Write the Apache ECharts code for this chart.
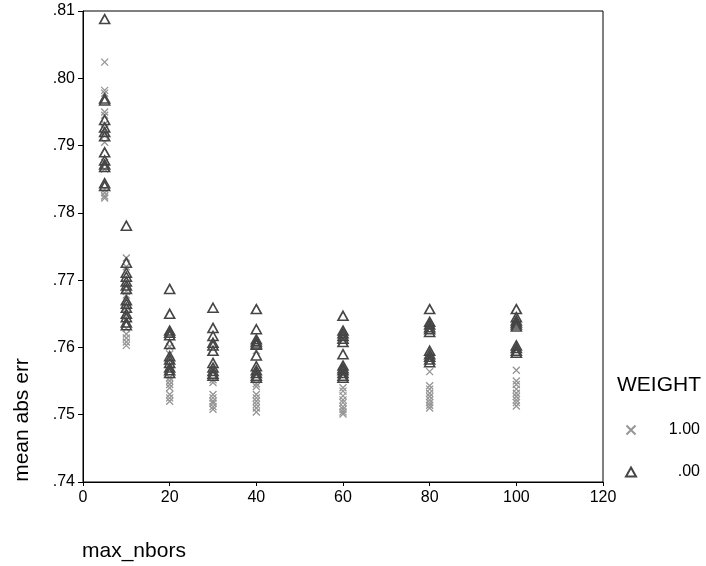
<!DOCTYPE html>
<html>
<head>
<meta charset="utf-8">
<script src="https://cdn.jsdelivr.net/npm/echarts@6/dist/echarts.min.js"></script>
<style>
html,body{margin:0;padding:0;background:#fff;}
#c{width:706px;height:566px;}
</style>
</head>
<body>
<div id="c"></div>
<script>
// max_nbors values (x categories)
const maxNbors = [5, 10, 20, 30, 40, 60, 80, 100];

// WEIGHT = 1.00 (crosses), one list per max_nbors value
const weight100 = [
  [.8024, .7982, .7978, .7950, .7945, .7932, .7925, .7915, .7905, .7875, .7865, .7835, .7830, .7825, .7822],
  [.7733, .7720, .7690, .7683, .7678, .7660, .7648, .7640, .7628, .7620, .7614, .7608, .7603],
  [.7601, .7590, .7572, .7555, .7550, .7545, .7540, .7530, .7525, .7520],
  [.7552, .7548, .7530, .7525, .7520, .7517, .7512, .7508],
  [.7595, .7546, .7542, .7530, .7525, .7520, .7515, .7510, .7504],
  [.7540, .7535, .7528, .7522, .7518, .7512, .7508, .7504, .7501],
  [.7564, .7543, .7538, .7532, .7527, .7522, .7518, .7514, .7510],
  [.7566, .7550, .7545, .7538, .7532, .7527, .7522, .7518, .7513]
];

// WEIGHT = .00 (triangles), one list per max_nbors value
const weight000 = [
  [.8088, .7970, .7967, .7938, .7927, .7920, .7914, .7890, .7878, .7872, .7868, .7844, .7840],
  [.7781, .7726, .7711, .7705, .7698, .7692, .7687, .7670, .7665, .7659, .7650, .7645, .7637, .7633],
  [.7687, .7650, .7625, .7622, .7618, .7605, .7587, .7582, .7577, .7570, .7566, .7562],
  [.7659, .7629, .7617, .7607, .7603, .7595, .7577, .7570, .7565, .7561, .7558],
  [.7657, .7627, .7612, .7609, .7606, .7604, .7588, .7572, .7566, .7562, .7558, .7555],
  [.7647, .7625, .7621, .7617, .7613, .7608, .7590, .7573, .7569, .7566, .7562, .7558, .7555],
  [.7657, .7638, .7634, .7630, .7627, .7623, .7595, .7590, .7586, .7582, .7578],
  [.7657, .7645, .7640, .7637, .7634, .7631, .7603, .7599, .7595, .7592]
];

const legendNames = ['1.00', '.00'];
const legendTitle = 'WEIGHT';
const xTitle = 'max_nbors';
const yTitle = 'mean abs err';

function toPoints(groups) {
  const pts = [];
  groups.forEach((vals, i) => vals.forEach(v => pts.push([maxNbors[i], v])));
  return pts;
}

const FONT = '"Liberation Sans", Arial, Helvetica, sans-serif';
const chart = echarts.init(document.getElementById('c'), null, {renderer: 'canvas'});

chart.setOption({
  animation: false,
  backgroundColor: '#fff',
  textStyle: {fontFamily: FONT},
  grid: {left: 83, top: 11, right: 103, bottom: 84, show: true, borderColor: '#000', borderWidth: 1, backgroundColor: 'transparent'},
  xAxis: {
    type: 'value', min: 0, max: 120, interval: 20,
    axisLine: {show: true, onZero: false, lineStyle: {color: '#000', width: 1}},
    axisTick: {show: true, length: 4, lineStyle: {color: '#000'}},
    axisLabel: {color: '#000', fontSize: 16, fontFamily: FONT, margin: 8},
    splitLine: {show: false}
  },
  yAxis: {
    type: 'value', min: 0.74, max: 0.81, interval: 0.01,
    axisLine: {show: true, onZero: false, lineStyle: {color: '#000', width: 1}},
    axisTick: {show: true, length: 5, lineStyle: {color: '#000'}},
    axisLabel: {color: '#000', fontSize: 16, fontFamily: FONT, margin: 8,
      formatter: v => v.toFixed(2).replace(/^0/, '')},
    splitLine: {show: false}
  },
  legend: {
    orient: 'vertical', left: 620, top: 417,
    itemWidth: 10, itemHeight: 9, itemGap: 26,
    data: [
      {name: legendNames[0]},
      {name: legendNames[1]}
    ],
    formatter: '{a|{name}}',
    textStyle: {color: '#000', fontSize: 16, fontFamily: FONT,
      rich: {a: {width: 59, align: 'right', fontSize: 16, fontFamily: FONT, color: '#000'}}}
  },
  graphic: [
    {type: 'text', left: 617, top: 375, style: {text: legendTitle, fontSize: 21, fontFamily: FONT, fill: '#000'}},
    {type: 'text', left: 82, top: 541, style: {text: xTitle, fontSize: 21, fontFamily: FONT, fill: '#000'}},
    {type: 'text', x: 22, y: 420, rotation: Math.PI / 2,
      style: {text: yTitle, fontSize: 21, fontFamily: FONT, fill: '#000', align: 'center', verticalAlign: 'middle'}}
  ],
  series: [
    {
      name: legendNames[0], type: 'scatter',
      symbol: 'path://M0,0L10,10M10,0L0,10', symbolSize: 7,
      itemStyle: {color: 'rgba(0,0,0,0)', borderColor: '#959595', borderWidth: 1.3, opacity: 1},
      data: toPoints(weight100), z: 2
    },
    {
      name: legendNames[1], type: 'scatter',
      symbol: 'triangle', symbolSize: [10, 9],
      itemStyle: {color: 'rgba(0,0,0,0)', borderColor: '#454545', borderWidth: 1.6, opacity: 1},
      data: toPoints(weight000), z: 3
    }
  ]
});
</script>
</body>
</html>
